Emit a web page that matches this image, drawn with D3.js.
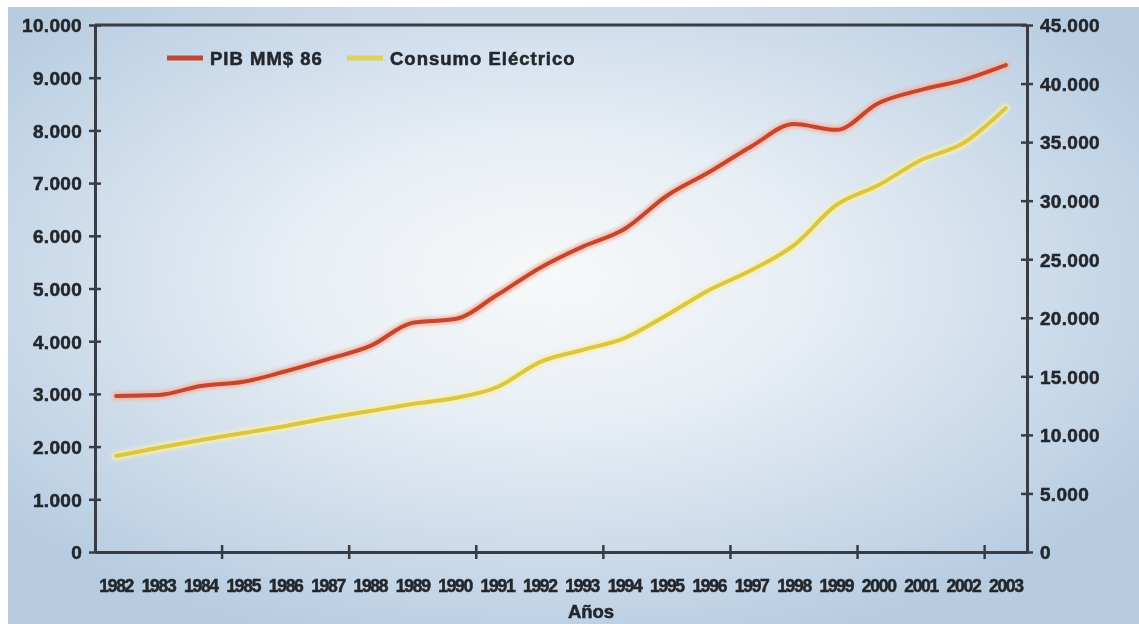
<!DOCTYPE html>
<html>
<head>
<meta charset="utf-8">
<script src="https://cdn.jsdelivr.net/npm/d3@7"></script>
<style>
  html, body { margin: 0; padding: 0; background: #ffffff; }
  svg { display: block; }
  text { font-family: "Liberation Sans", Arial, sans-serif; font-weight: bold; fill: #24282d;
         stroke: #24282d; stroke-width: 0.55px; }
</style>
</head>
<body>
<svg id="chart" width="1139" height="624"></svg>
<script>
// Años de la serie
const years = [1982, 1983, 1984, 1985, 1986, 1987, 1988, 1989, 1990, 1991, 1992,
               1993, 1994, 1995, 1996, 1997, 1998, 1999, 2000, 2001, 2002, 2003];

// PIB en millones de pesos de 1986 (eje izquierdo)
const pib = [2960, 2980, 3150, 3230, 3430, 3660, 3910, 4350, 4420, 4880, 5390,
             5790, 6130, 6760, 7210, 7700, 8120, 8010, 8520, 8770, 8960, 9240];

// Consumo eléctrico (eje derecho)
const consumo = [8200, 8900, 9560, 10160, 10760, 11440, 12040, 12640, 13150, 14090, 16220,
                 17250, 18270, 20240, 22370, 24080, 26200, 29630, 31340, 33470, 34920, 37910];

const leftTicks = [0, 1000, 2000, 3000, 4000, 5000, 6000, 7000, 8000, 9000, 10000];
const rightTicks = [0, 5000, 10000, 15000, 20000, 25000, 30000, 35000, 40000, 45000];
const seriesNames = ["PIB MM$ 86", "Consumo Eléctrico"];
const xTitle = "Años";

const W = 1139, H = 624;
const plot = { left: 95, right: 1027, top: 25, bottom: 552 };

const svg = d3.select("#chart");

// Fondo con degradado radial claro en el centro
const defs = svg.append("defs");
const grad = defs.append("radialGradient")
  .attr("id", "bg").attr("cx", "0.48").attr("cy", "0.44").attr("r", "0.62");
grad.append("stop").attr("offset", "0").attr("stop-color", "#f7f8f9");
grad.append("stop").attr("offset", "0.35").attr("stop-color", "#e9eff5");
grad.append("stop").attr("offset", "1").attr("stop-color", "#b7cce1");

const blur = defs.append("filter").attr("id", "soft")
  .attr("x", "-5%").attr("y", "-5%").attr("width", "110%").attr("height", "110%");
blur.append("feGaussianBlur").attr("stdDeviation", 1.6);

const txtBlur = defs.append("filter").attr("id", "tsoft");
txtBlur.append("feGaussianBlur").attr("stdDeviation", 0.35);

svg.append("rect").attr("x", 8).attr("y", 7).attr("width", W - 8).attr("height", H - 7)
  .attr("fill", "url(#bg)");

// Escalas
const x = d3.scaleBand().domain(years).range([plot.left, plot.right]).padding(0);
const yL = d3.scaleLinear().domain([0, 10000]).range([plot.bottom, plot.top]);
const yR = d3.scaleLinear().domain([0, 45000]).range([plot.bottom, plot.top]);
const cx = d => x(d) + x.bandwidth() / 2;

const es = d3.formatLocale({ decimal: ",", thousands: ".", grouping: [3], currency: ["$", ""] });
const fmt = es.format(",d");

const axisColor = "#383e45";

// Líneas de datos (halo claro + trazo)
const linePib = d3.line().x((d, i) => cx(years[i])).y(d => yL(d)).curve(d3.curveMonotoneX);
const lineCons = d3.line().x((d, i) => cx(years[i])).y(d => yR(d)).curve(d3.curveMonotoneX);

const series = [
  { data: consumo, gen: lineCons, core: "#dcc540", halo: "#f8f0a8" },
  { data: pib, gen: linePib, core: "#c6452d", halo: "#f6b3a2" }
];
series.forEach(s => {
  svg.append("path").attr("d", s.gen(s.data)).attr("fill", "none")
    .attr("stroke", s.halo).attr("stroke-width", 9).attr("stroke-linejoin", "round")
    .attr("stroke-linecap", "round").attr("opacity", 0.8).attr("filter", "url(#soft)");
  svg.append("path").attr("d", s.gen(s.data)).attr("fill", "none")
    .attr("stroke", s.core).attr("stroke-width", 4).attr("stroke-linejoin", "round")
    .attr("stroke-linecap", "round");
});

// Marco superior
svg.append("line").attr("x1", plot.left).attr("x2", plot.right)
  .attr("y1", plot.top).attr("y2", plot.top)
  .attr("stroke", axisColor).attr("stroke-width", 3);

// Eje izquierdo
const gL = svg.append("g").attr("transform", `translate(${plot.left},0)`).attr("filter", "url(#tsoft)")
  .call(d3.axisLeft(yL).tickValues(leftTicks).tickFormat(fmt).tickSizeInner(5).tickSizeOuter(0).tickPadding(8));
gL.select(".domain").attr("stroke", axisColor).attr("stroke-width", 3);
gL.selectAll(".tick line").attr("x1", -6).attr("x2", 6).attr("stroke", axisColor).attr("stroke-width", 2.5);
gL.selectAll(".tick text").style("font-size", "19px").style("letter-spacing", "0.3px").attr("dy", "0.36em");

// Eje derecho
const gR = svg.append("g").attr("transform", `translate(${plot.right},0)`).attr("filter", "url(#tsoft)")
  .call(d3.axisRight(yR).tickValues(rightTicks).tickFormat(fmt).tickSizeInner(5).tickSizeOuter(0).tickPadding(8));
gR.select(".domain").attr("stroke", axisColor).attr("stroke-width", 3);
gR.selectAll(".tick line").attr("x1", -6).attr("x2", 6).attr("stroke", axisColor).attr("stroke-width", 2.5);
gR.selectAll(".tick text").style("font-size", "19px").style("letter-spacing", "0.3px").attr("dy", "0.36em");

// Eje inferior: etiquetas centradas en cada año, marcas cada tres años
const gB = svg.append("g").attr("transform", `translate(0,${plot.bottom})`).attr("filter", "url(#tsoft)")
  .call(d3.axisBottom(x).tickSize(0).tickPadding(0));
gB.select(".domain").attr("stroke", axisColor).attr("stroke-width", 3);
gB.selectAll(".tick text").style("font-size", "17.5px").style("letter-spacing", "-1.3px")
  .attr("y", 28);

const markYears = years.filter((d, i) => i > 0 && i % 3 === 0);
gB.selectAll(".mark").data(markYears).enter().append("line")
  .attr("class", "mark")
  .attr("x1", d => x(d)).attr("x2", d => x(d))
  .attr("y1", -7).attr("y2", 7)
  .attr("stroke", axisColor).attr("stroke-width", 2.5);

svg.append("text").attr("x", 591).attr("y", 618).attr("text-anchor", "middle")
  .attr("filter", "url(#tsoft)")
  .style("font-size", "18.5px").text(xTitle);

// Leyenda
const legend = svg.append("g").attr("filter", "url(#tsoft)");
const legendItems = [
  { name: seriesNames[0], color: "#bd4a34", x: 167 },
  { name: seriesNames[1], color: "#dcd35a", x: 347 }
];
legendItems.forEach(it => {
  legend.append("line").attr("x1", it.x).attr("x2", it.x + 36).attr("y1", 58).attr("y2", 58)
    .attr("stroke", it.color).attr("stroke-width", 5);
  legend.append("text").attr("x", it.x + 43).attr("y", 58).attr("dy", "0.36em")
    .style("font-size", "18.5px").style("letter-spacing", "1px").text(it.name);
});
</script>
</body>
</html>
